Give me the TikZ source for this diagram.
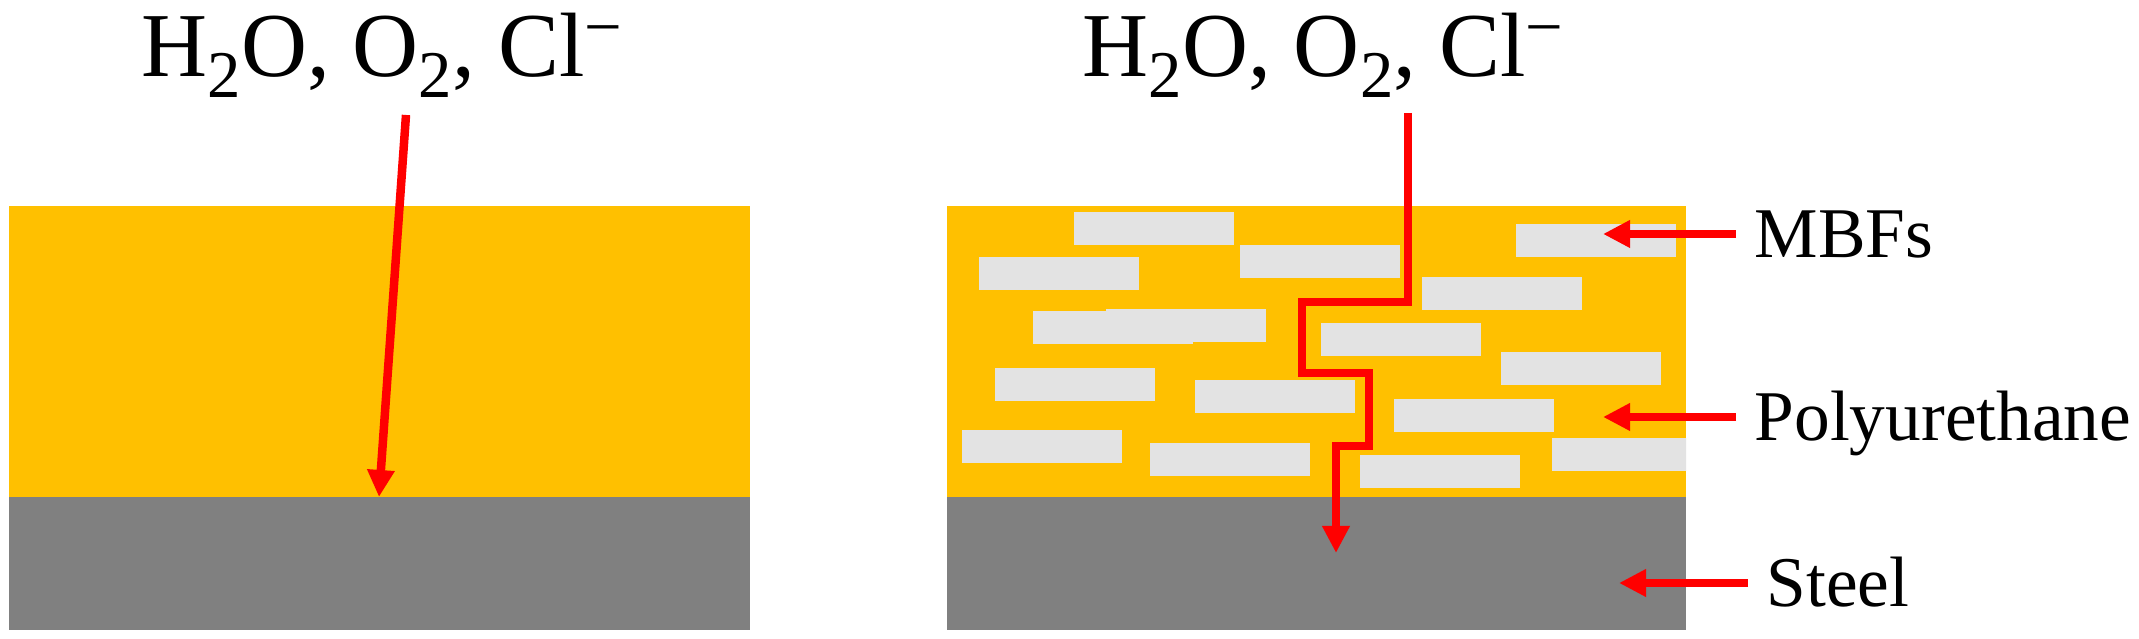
\documentclass[tikz,border=0pt]{standalone}
\usepackage{fontspec}
\setmainfont{Liberation Serif}
\usetikzlibrary{arrows.meta}
\definecolor{pu}{HTML}{FFC000}
\definecolor{steel}{HTML}{808080}
\definecolor{mbf}{HTML}{E3E3E3}
\newcommand{\chsub}[1]{\raisebox{-0.22em}{\fontsize{19}{19}\selectfont #1}}
\newcommand{\chsup}[1]{\raisebox{0.3em}{\fontsize{19}{19}\selectfont #1}}
\begin{document}
\begin{tikzpicture}[>={Triangle[length=2.7mm,width=2.6mm]},
  route/.style={->,red,line width=0.85mm},
  pointer/.style={->,red,line width=0.85mm},
  formula/.style={anchor=base,inner sep=0pt,font=\fontsize{26}{30}\selectfont},
  lbl/.style={anchor=west,inner xsep=1.8mm,inner ysep=0pt,text height=4.7mm,text depth=0pt,font=\fontsize{20.3}{24}\selectfont}]
\useasboundingbox (0,0) rectangle (21.39,6.39);
\def\ytop{4.33}
\def\yint{1.42}
\def\ybot{0.09}
% plain coating
\fill[pu] (0.09,\yint) rectangle (7.50,\ytop);
\fill[steel] (0.09,\ybot) rectangle (7.50,\yint);
% coating with flakes
\fill[pu] (9.47,\yint) rectangle (16.86,\ytop);
\begin{scope}
\clip (9.47,\yint) rectangle (16.86,\ytop);
\foreach \x/\y in {10.74/3.94,12.40/3.61,9.79/3.49,15.16/3.82,14.22/3.29,
	10.33/2.95,11.06/2.97,13.21/2.83,15.01/2.54,9.95/2.38,11.95/2.26,
	13.94/2.07,9.62/1.76,11.50/1.63,13.60/1.51,15.52/1.68}{
	\fill[mbf] (\x,\y) rectangle ++(1.60,0.33);
}
\end{scope}
\fill[steel] (9.47,\ybot) rectangle (16.86,\yint);
% media
\node[formula] (gasL) at (3.82,5.62) {H\chsub{2}O, O\chsub{2}, Cl\chsup{−}};
\node[formula] (gasR) at (13.23,5.62) {H\chsub{2}O, O\chsub{2}, Cl\chsup{−}};
\coordinate (entL) at (4.06,5.24);
\coordinate (hitL) at (3.79,\yint);
\draw[route] (entL) -- (hitL);
\coordinate (entR) at (14.08,5.26);
\coordinate (hitR) at (13.36,0.86);
\draw[route] (entR) |- (13.02,3.37) |- (13.69,2.66) |- (13.36,1.93) -- (hitR);
% labels
\node[lbl] (mbfs) at (17.36,4.05) {MBFs};
\node[lbl] (poly) at (17.36,2.22) {Polyurethane};
\node[lbl] (stl) at (17.48,0.56) {Steel};
\coordinate (mbfsTip) at (16.03,4.05);
\coordinate (polyTip) at (16.03,2.22);
\coordinate (stlTip) at (16.19,0.56);
\draw[pointer] (mbfs.west) -- (mbfsTip);
\draw[pointer] (poly.west) -- (polyTip);
\draw[pointer] (stl.west) -- (stlTip);
\end{tikzpicture}
\end{document}
